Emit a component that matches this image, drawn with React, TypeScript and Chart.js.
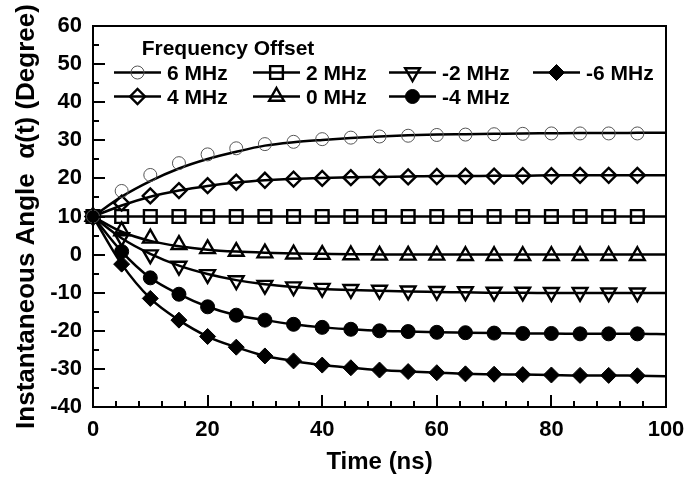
import React, { useEffect, useRef } from 'react';
import { Chart, registerables } from 'chart.js';
import { drawPoint } from 'chart.js/helpers';

Chart.register(...registerables);

// ---------- data ----------
const markerTimes = [0, 5, 10, 15, 20, 25, 30, 35, 40, 45, 50, 55, 60, 65, 70, 75, 80, 85, 90, 95];
const curveTimes = [0, 5, 10, 15, 20, 25, 30, 35, 40, 45, 50, 55, 60, 65, 70, 75, 80, 85, 90, 95, 100];

const seriesLabels = ['6 MHz', '4 MHz', '2 MHz', '0 MHz', '-2 MHz', '-4 MHz', '-6 MHz'];

const markersP6 = [10, 16.7, 20.9, 24.0, 26.3, 27.9, 29.0, 29.6, 30.3, 30.7, 31.0, 31.2, 31.4, 31.5, 31.6, 31.7, 31.8, 31.8, 31.8, 31.8];
const markersP4 = [10, 13.5, 15.4, 16.8, 18.1, 19.0, 19.5, 19.8, 20.0, 20.2, 20.3, 20.4, 20.5, 20.6, 20.6, 20.7, 20.7, 20.8, 20.8, 20.8];
const markersP2 = [10, 10, 10, 10, 10, 10, 10, 10, 10, 10, 10, 10, 10, 10, 10, 10, 10, 10, 10, 10];
const markers0 = [10, 6.2, 4.3, 2.6, 1.5, 0.8, 0.4, 0.1, 0.0, -0.1, -0.2, -0.2, -0.2, -0.3, -0.3, -0.3, -0.3, -0.3, -0.3, -0.3];
const markersN2 = [10, 4.5, 0.0, -3.0, -5.2, -6.8, -8.0, -8.4, -8.8, -9.1, -9.3, -9.5, -9.6, -9.7, -9.8, -9.8, -9.9, -9.9, -10.0, -10.0];
const markersN4 = [10, 0.8, -6.1, -10.4, -13.7, -15.9, -17.2, -18.3, -19.1, -19.6, -20.0, -20.2, -20.4, -20.5, -20.6, -20.7, -20.7, -20.8, -20.8, -20.8];
const markersN6 = [10, -2.5, -11.5, -17.2, -21.5, -24.3, -26.6, -27.9, -29.0, -29.7, -30.3, -30.7, -31.0, -31.3, -31.4, -31.5, -31.6, -31.7, -31.7, -31.8];

const curveP6 = [10, 15.2, 19.3, 22.6, 25.1, 27.0, 28.6, 29.5, 30.1, 30.6, 31.0, 31.3, 31.5, 31.6, 31.7, 31.8, 31.85, 31.9, 31.9, 31.95, 32.0];
const curveP4 = [10, 12.9, 15.2, 16.8, 18.0, 18.9, 19.5, 19.9, 20.1, 20.3, 20.4, 20.5, 20.6, 20.6, 20.7, 20.7, 20.8, 20.8, 20.8, 20.8, 20.8];
const curveP2 = [10, 10, 10, 10, 10, 10, 10, 10, 10, 10, 10, 10, 10, 10, 10, 10, 10, 10, 10, 10, 10];
const curve0 = [10, 6.0, 3.6, 2.2, 1.3, 0.8, 0.5, 0.3, 0.2, 0.1, 0.05, 0, 0, 0, 0, 0, 0, 0, 0, 0, 0];
const curveN2 = [10, 4.3, 0.2, -2.9, -5.1, -6.7, -7.8, -8.5, -9.0, -9.3, -9.5, -9.7, -9.8, -9.9, -10.0, -10.0, -10.1, -10.1, -10.1, -10.1, -10.1];
const curveN4 = [10, 0.8, -6.1, -10.4, -13.7, -15.9, -17.2, -18.3, -19.1, -19.6, -20.0, -20.2, -20.4, -20.5, -20.6, -20.7, -20.7, -20.8, -20.8, -20.8, -20.9];
const curveN6 = [10, -2.5, -11.5, -17.2, -21.5, -24.3, -26.6, -27.9, -29.0, -29.7, -30.3, -30.7, -31.0, -31.3, -31.4, -31.5, -31.6, -31.7, -31.7, -31.8, -31.9];

const markerSeries = [markersP6, markersP4, markersP2, markers0, markersN2, markersN4, markersN6];
const curveSeries = [curveP6, curveP4, curveP2, curve0, curveN2, curveN4, curveN6];

const xTickValues = [0, 20, 40, 60, 80, 100];
const yTickValues = [-40, -30, -20, -10, 0, 10, 20, 30, 40, 50, 60];
const xMinorStep = 4;
const yMinorStep = 5;

const legendTitle = 'Frequency Offset';
const xTitle = 'Time (ns)';
const yTitle = 'Instantaneous Angle  \u03B1(t) (Degree)';

// ---------- styles ----------
const FONT = "'Liberation Sans', Arial, Helvetica, sans-serif";
const CLEAR = 'rgba(0,0,0,0)';

const markerStyles = [
  { pointStyle: 'circle', radius: 6.5, fill: CLEAR, stroke: '#555555', width: 1, rotation: 0 },
  { pointStyle: 'rectRot', radius: 7.5, fill: CLEAR, stroke: '#000000', width: 2.4, rotation: 0 },
  { pointStyle: 'rect', radius: 9, fill: CLEAR, stroke: '#000000', width: 2.4, rotation: 0 },
  { pointStyle: 'triangle', radius: 8.5, fill: CLEAR, stroke: '#000000', width: 2.4, rotation: 0 },
  { pointStyle: 'triangle', radius: 8.5, fill: CLEAR, stroke: '#000000', width: 2.4, rotation: 180 },
  { pointStyle: 'circle', radius: 7, fill: '#000000', stroke: '#000000', width: 1, rotation: 0 },
  { pointStyle: 'rectRot', radius: 8, fill: '#000000', stroke: '#000000', width: 1, rotation: 0 },
];

const innerTicksPlugin = {
  id: 'innerTicks',
  afterDatasetsDraw(chart: any) {
    const { ctx, chartArea } = chart;
    const xs = chart.scales.x;
    const ys = chart.scales.y;
    ctx.save();
    ctx.strokeStyle = '#000';
    ctx.lineWidth = 2;
    for (let v = xs.min; v <= xs.max + 1e-9; v += xMinorStep) {
      const px = Math.round(xs.getPixelForValue(v));
      const len = v % 20 === 0 ? 12 : 6;
      ctx.beginPath();
      ctx.moveTo(px, chartArea.bottom);
      ctx.lineTo(px, chartArea.bottom - len);
      ctx.stroke();
    }
    for (let v = ys.min; v <= ys.max + 1e-9; v += yMinorStep) {
      const py = Math.round(ys.getPixelForValue(v));
      const len = v % 10 === 0 ? 12 : 6;
      ctx.beginPath();
      ctx.moveTo(chartArea.left, py);
      ctx.lineTo(chartArea.left + len, py);
      ctx.stroke();
    }
    ctx.strokeRect(chartArea.left, chartArea.top, chartArea.right - chartArea.left, chartArea.bottom - chartArea.top);
    ctx.restore();
  },
};

const legendPlugin = {
  id: 'customLegend',
  afterDraw(chart: any) {
    const { ctx } = chart;
    ctx.save();
    ctx.fillStyle = '#000';
    ctx.font = `bold 21px ${FONT}`;
    ctx.textBaseline = 'alphabetic';
    ctx.textAlign = 'center';
    ctx.fillText(legendTitle, 228, 55);
    const colStart = [114, 253, 389, 533];
    const rowBase = [80, 104];
    ctx.textAlign = 'left';
    for (let i = 0; i < seriesLabels.length; i++) {
      const col = Math.floor(i / 2);
      const row = i % 2;
      const x0 = colStart[col];
      const yText = rowBase[row];
      const yMid = yText - 7.5;
      ctx.strokeStyle = '#000';
      ctx.lineWidth = 2.5;
      ctx.beginPath();
      ctx.moveTo(x0, yMid);
      ctx.lineTo(x0 + 47, yMid);
      ctx.stroke();
      const st = markerStyles[i];
      ctx.fillStyle = st.fill;
      ctx.strokeStyle = st.stroke;
      ctx.lineWidth = st.width;
      drawPoint(ctx, { pointStyle: st.pointStyle, rotation: st.rotation, radius: st.radius, borderWidth: st.width } as any, x0 + 23.5, yMid);
      ctx.fillStyle = '#000';
      ctx.fillText(seriesLabels[i], x0 + 53, yText);
    }
    ctx.restore();
  },
};

export default function App() {
  const canvasRef = useRef<HTMLCanvasElement | null>(null);

  useEffect(() => {
    document.body.style.margin = '0';
    const canvas = canvasRef.current;
    if (!canvas) return;

    const curveDatasets = curveSeries.map((vals, i) => ({
      label: seriesLabels[i] + ' curve',
      data: curveTimes.map((t, j) => ({ x: t, y: vals[j] })),
      showLine: true,
      borderColor: '#000000',
      borderWidth: 2.5,
      pointRadius: 0,
      cubicInterpolationMode: 'monotone' as const,
      clip: false as any,
      order: 2,
    }));

    const markerDatasets = markerSeries.map((vals, i) => {
      const st = markerStyles[i];
      return {
        label: seriesLabels[i],
        data: markerTimes.map((t, j) => ({ x: t, y: vals[j] })),
        showLine: false,
        pointStyle: st.pointStyle as any,
        pointRadius: st.radius,
        pointBorderWidth: st.width,
        pointBorderColor: st.stroke,
        pointBackgroundColor: st.fill,
        pointRotation: st.rotation,
        clip: false as any,
        order: 1,
      };
    });

    const chart = new Chart(canvas, {
      type: 'scatter',
      data: { datasets: [...markerDatasets, ...curveDatasets] as any },
      plugins: [innerTicksPlugin, legendPlugin],
      options: {
        animation: false,
        responsive: false,
        events: [],
        layout: { padding: { top: 26, right: 34, left: 0, bottom: 0 } },
        plugins: {
          legend: { display: false },
          tooltip: { enabled: false },
        },
        scales: {
          x: {
            type: 'linear',
            min: 0,
            max: 100,
            afterBuildTicks: (scale: any) => {
              scale.ticks = xTickValues.map((v) => ({ value: v }));
            },
            afterFit: (scale: any) => {
              scale.height = 74;
            },
            grid: { display: false, drawTicks: false },
            border: { display: true, color: '#000', width: 2 },
            ticks: {
              color: '#000',
              padding: 10,
              font: { family: FONT, size: 22, weight: 'bold' },
            },
            title: {
              display: true,
              text: xTitle,
              color: '#000',
              padding: { top: 0, bottom: 4 },
              font: { family: FONT, size: 24, weight: 'bold' },
            },
          },
          y: {
            type: 'linear',
            min: -40,
            max: 60,
            afterBuildTicks: (scale: any) => {
              scale.ticks = yTickValues.map((v) => ({ value: v }));
            },
            afterFit: (scale: any) => {
              scale.width = 93;
            },
            grid: { display: false, drawTicks: false },
            border: { display: true, color: '#000', width: 2 },
            ticks: {
              color: '#000',
              padding: 11,
              font: { family: FONT, size: 22, weight: 'bold' },
            },
            title: {
              display: true,
              text: yTitle,
              color: '#000',
              padding: { top: 11, bottom: 0 },
              font: { family: FONT, size: 26, weight: 'bold' },
            },
          },
        },
      } as any,
    });

    return () => {
      chart.destroy();
    };
  }, []);

  return (
    <div style={{ width: 700, height: 481, background: '#fff' }}>
      <canvas ref={canvasRef} width={700} height={481} style={{ display: 'block' }} />
    </div>
  );
}
